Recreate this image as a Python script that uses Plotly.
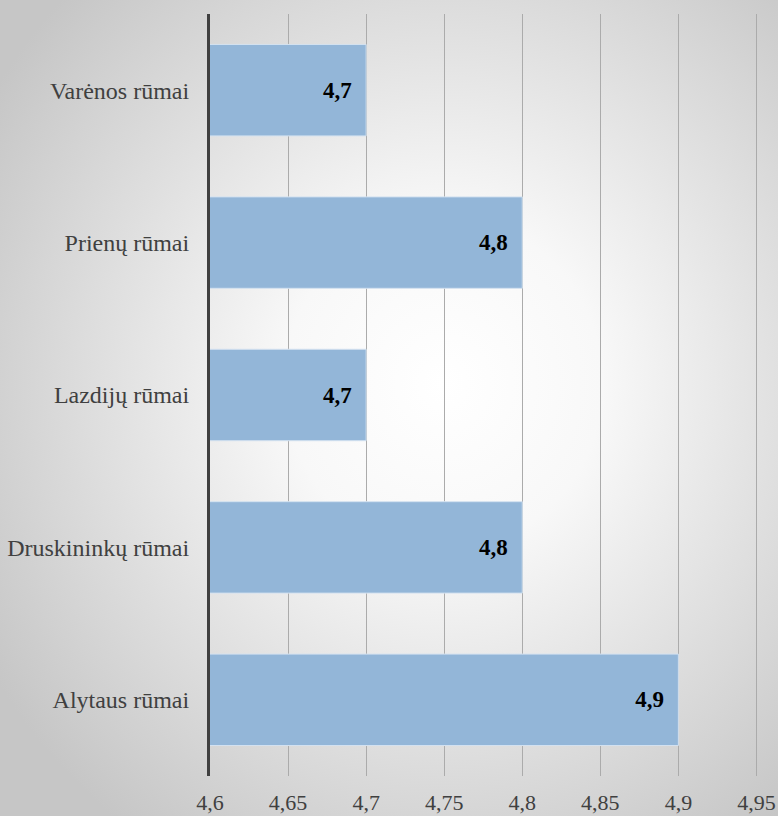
import plotly.graph_objects as go
import urllib.parse

categories = ["Varėnos rūmai", "Prienų rūmai", "Lazdijų rūmai", "Druskininkų rūmai", "Alytaus rūmai"]
values = [4.7, 4.8, 4.7, 4.8, 4.9]
x_ticks = [4.6, 4.65, 4.7, 4.75, 4.8, 4.85, 4.9, 4.95]
x_tick_labels = ["4,6", "4,65", "4,7", "4,75", "4,8", "4,85", "4,9", "4,95"]

W, H = 778, 816
L, R, T, B = 210, 20, 14, 40
pw, ph = W - L - R, H - T - B
SERIF = "Liberation Serif, Times New Roman, Tinos, serif"

svg = (
    '<svg xmlns="http://www.w3.org/2000/svg" width="778" height="816" preserveAspectRatio="none">'
    '<defs><radialGradient id="g" cx="57%" cy="47%" r="68%">'
    '<stop offset="0%" stop-color="#ffffff"/>'
    '<stop offset="30%" stop-color="#f8f8f8"/>'
    '<stop offset="100%" stop-color="#c6c6c6"/>'
    '</radialGradient></defs>'
    '<rect width="778" height="816" fill="url(#g)"/></svg>'
)
src = "data:image/svg+xml;charset=utf-8," + urllib.parse.quote(svg)

fig = go.Figure(
    go.Bar(
        y=categories,
        x=values,
        orientation="h",
        marker=dict(color="#93b6d8", line=dict(color="#d4e2f0", width=1)),
        text=[f"{v:.1f}".replace(".", ",") + "\u00a0\u00a0" for v in values],
        textposition="inside",
        insidetextanchor="end",
        textfont=dict(family=SERIF, size=23, color="#000000", weight="bold"),
        width=0.6,
        hoverinfo="skip",
    )
)

fig.update_layout(
    width=W,
    height=H,
    margin=dict(l=L, r=R, t=T, b=B, autoexpand=False),
    paper_bgcolor="rgba(0,0,0,0)",
    plot_bgcolor="rgba(0,0,0,0)",
    separators=", ",
    showlegend=False,
    font=dict(family=SERIF),
    images=[
        dict(
            source=src,
            xref="paper",
            yref="paper",
            x=-L / pw,
            y=1 + T / ph,
            sizex=W / pw,
            sizey=H / ph,
            sizing="stretch",
            xanchor="left",
            yanchor="top",
            layer="below",
        )
    ],
    xaxis=dict(
        range=[4.6, 4.951],
        tickvals=x_ticks,
        ticktext=x_tick_labels,
        showgrid=True,
        gridcolor="#ababab",
        gridwidth=1,
        zeroline=False,
        showline=False,
        ticks="",
        ticklabelstandoff=11,
        tickfont=dict(family=SERIF, size=22, color="#404040"),
        fixedrange=True,
        automargin=False,
    ),
    yaxis=dict(
        autorange="reversed",
        showgrid=False,
        showline=True,
        linecolor="#404040",
        linewidth=3,
        ticks="",
        ticklabelstandoff=13,
        tickfont=dict(family=SERIF, size=24, color="#404040"),
        fixedrange=True,
        automargin=False,
    ),
)

fig.write_html(
    "out.html",
    config=dict(displayModeBar=False),
    post_script="document.body.style.margin='0';document.body.style.overflow='hidden';",
)
